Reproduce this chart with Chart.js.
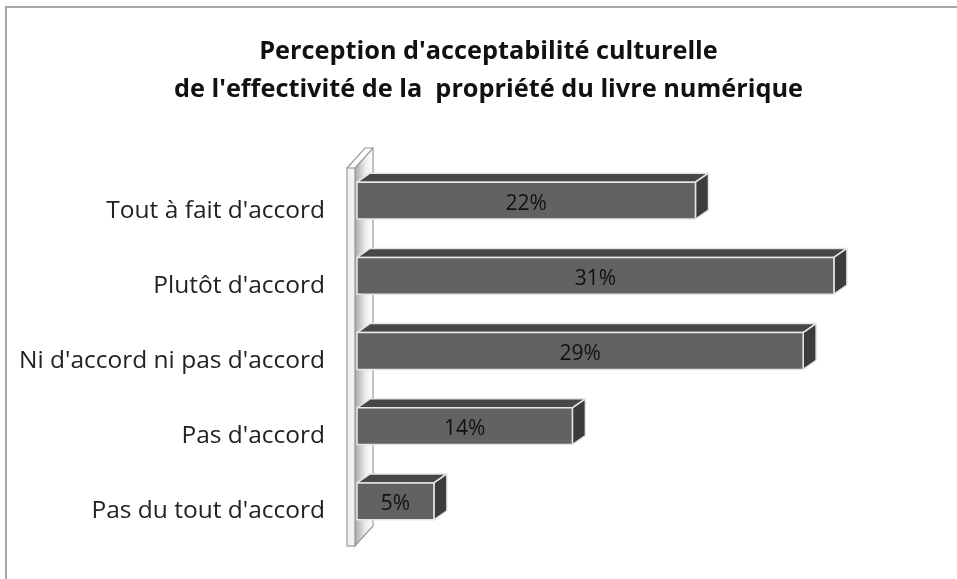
<!DOCTYPE html>
<html>
<head>
<meta charset="utf-8">
<script src="https://cdn.jsdelivr.net/npm/chart.js@4"></script>
<style>
    body { margin: 0; background: #fff; overflow: hidden; }
    #wrap { position: relative; width: 957px; height: 579px; }
    #frame {
        position: absolute; left: 5px; top: 6px; width: 1000px; height: 1000px;
        border: 2px solid #a8a8a8; pointer-events: none;
    }
</style>
</head>
<body>
<div id="wrap">
    <canvas id="chart" width="957" height="579"></canvas>
    <div id="frame"></div>
</div>
<script>
// Survey answers and their shares (%)
const categories = [
    'Tout à fait d\'accord',
    'Plutôt d\'accord',
    'Ni d\'accord ni pas d\'accord',
    'Pas d\'accord',
    'Pas du tout d\'accord'
];
const shares = [22, 31, 29, 14, 5];
const titleLines = [
    'Perception d\'acceptabilité culturelle',
    'de l\'effectivité de la  propriété du livre numérique'
];

const FONT = '"Open Sans", sans-serif';
const DEPTH_X = 13;
const DEPTH_Y = 9;

// Left wall of the 3D plot, drawn before the bars
const wallPlugin = {
    id: 'wall3d',
    beforeDatasetsDraw(chart) {
        const { ctx, chartArea } = chart;
        const l = chartArea.left, t = chartArea.top, b = chartArea.bottom;
        const fx0 = l - 10, fx1 = l - 2;
        const top = t + 5, bot = b + 7;
        const bx = l + 16, by = -20;

        ctx.save();
        // depth face
        const g = ctx.createLinearGradient(fx1, 0, bx, 0);
        g.addColorStop(0, '#a9a9a9');
        g.addColorStop(0.6, '#eeeeee');
        g.addColorStop(1, '#ffffff');
        ctx.beginPath();
        ctx.moveTo(fx1, top);
        ctx.lineTo(bx, top + by);
        ctx.lineTo(bx, bot + by);
        ctx.lineTo(fx1, bot);
        ctx.closePath();
        ctx.fillStyle = g;
        ctx.fill();
        ctx.strokeStyle = '#9a9a9a';
        ctx.lineWidth = 1.2;
        ctx.stroke();
        // top edge of the thin front strip
        ctx.beginPath();
        ctx.moveTo(fx0, top);
        ctx.lineTo(fx0 + (bx - fx1), top + by);
        ctx.lineTo(bx, top + by);
        ctx.stroke();
        // front strip
        ctx.fillStyle = '#f2f2f2';
        ctx.fillRect(fx0, top, fx1 - fx0, bot - top);
        ctx.strokeRect(fx0, top, fx1 - fx0, bot - top);
        ctx.restore();
    }
};

// 3D boxes for each bar plus the value text on the front face
const barsPlugin = {
    id: 'bars3d',
    afterDatasetsDraw(chart) {
        const { ctx } = chart;
        const meta = chart.getDatasetMeta(0);
        ctx.save();
        ctx.lineJoin = 'round';
        meta.data.forEach((bar, i) => {
            const p = bar.getProps(['x', 'y', 'base', 'height'], true);
            const x0 = p.base, x1 = p.x;
            const y0 = p.y - p.height / 2, y1 = p.y + p.height / 2;

            ctx.strokeStyle = '#e6e6e6';
            ctx.lineWidth = 1.5;

            // top face
            ctx.beginPath();
            ctx.moveTo(x0, y0);
            ctx.lineTo(x0 + DEPTH_X, y0 - DEPTH_Y);
            ctx.lineTo(x1 + DEPTH_X, y0 - DEPTH_Y);
            ctx.lineTo(x1, y0);
            ctx.closePath();
            ctx.fillStyle = '#474747';
            ctx.fill();
            ctx.stroke();

            // right face
            ctx.beginPath();
            ctx.moveTo(x1, y0);
            ctx.lineTo(x1 + DEPTH_X, y0 - DEPTH_Y);
            ctx.lineTo(x1 + DEPTH_X, y1 - DEPTH_Y);
            ctx.lineTo(x1, y1);
            ctx.closePath();
            ctx.fillStyle = '#3c3c3c';
            ctx.fill();
            ctx.stroke();

            // front face
            ctx.fillStyle = '#626262';
            ctx.fillRect(x0, y0, x1 - x0, y1 - y0);
            ctx.strokeRect(x0, y0, x1 - x0, y1 - y0);

            ctx.fillStyle = '#111';
            ctx.font = '21px ' + FONT;
            ctx.textAlign = 'center';
            ctx.textBaseline = 'middle';
            ctx.fillText(shares[i] + '%', (x0 + x1) / 2, p.y + 3);
        });
        ctx.restore();
    }
};

new Chart(document.getElementById('chart'), {
    type: 'bar',
    data: {
        labels: categories,
        datasets: [{
            data: shares,
            backgroundColor: 'rgba(0,0,0,0)',
            borderWidth: 0,
            barPercentage: 0.49,
            categoryPercentage: 1
        }]
    },
    options: {
        indexAxis: 'y',
        responsive: false,
        animation: false,
        layout: { padding: { top: 0, right: 0, bottom: 40, left: 20 } },
        scales: {
            x: { display: false, min: 0, max: 39 },
            y: {
                grid: { display: false, drawTicks: false },
                border: { display: false },
                afterFit: scale => {
                    scale.width = 337;
                    scale.paddingTop = 0;
                    scale.paddingBottom = 0;
                },
                ticks: {
                    padding: 32,
                    labelOffset: 10,
                    color: '#222',
                    font: { family: FONT, size: 24.5 }
                }
            }
        },
        plugins: {
            legend: { display: false },
            tooltip: { enabled: false },
            title: {
                display: true,
                text: titleLines,
                color: '#111',
                font: { family: FONT, size: 25.3, weight: 'bold', lineHeight: '38px' },
                padding: { top: 33, bottom: 54 }
            }
        }
    },
    plugins: [wallPlugin, barsPlugin]
});
</script>
</body>
</html>
